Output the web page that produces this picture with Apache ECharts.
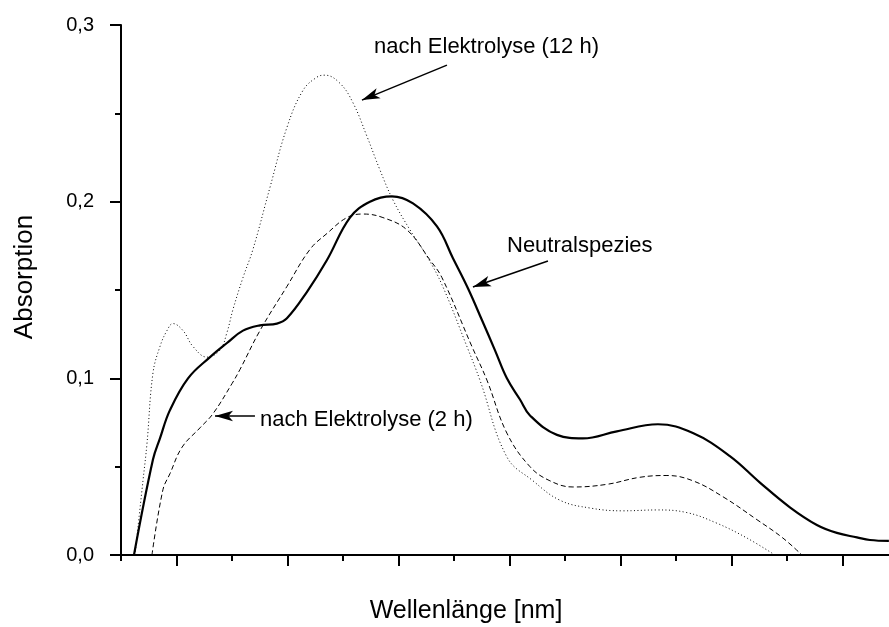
<!DOCTYPE html>
<html>
<head>
<meta charset="utf-8">
<script src="https://cdn.jsdelivr.net/npm/echarts@6/dist/echarts.min.js"></script>
<style>
html,body{margin:0;padding:0;background:#fff;}
#chart{width:889px;height:627px;}
</style>
</head>
<body>
<div id="chart"></div>
<script>
// ---- data (wavelength in nm, absorption) ----
var neutralX = [261.7,278.8,285.1,294.1,310.4,330.2,345.5,359.9,375.2,390.5,399.5,417.6,435.6,456.3,474.3,494.1,513.1,534.7,549.1,562.6,575.2,586.9,597.7,609.5,618.5,642.8,666.2,696.8,733.8,765.3,798.6,825.7,852.7,877.0,895.0,913.1,924.8,941.9];
var neutralY = [0.000,0.054,0.066,0.082,0.100,0.112,0.120,0.127,0.130,0.131,0.134,0.149,0.167,0.191,0.200,0.203,0.199,0.186,0.168,0.151,0.133,0.116,0.100,0.088,0.079,0.068,0.066,0.070,0.074,0.069,0.056,0.041,0.027,0.017,0.0125,0.010,0.0085,0.008];

var el2hX = [277.9,287.8,294.1,305.0,321.2,332.9,350.0,357.2,375.2,399.5,420.3,435.6,453.6,468.0,486.0,507.7,528.4,539.2,566.2,579.7,597.7,618.5,636.5,657.2,687.8,717.6,741.9,765.3,792.3,823.0,846.4,863.5];
var el2hY = [0.000,0.037,0.046,0.061,0.072,0.080,0.097,0.105,0.127,0.152,0.173,0.182,0.191,0.193,0.191,0.184,0.167,0.157,0.118,0.099,0.069,0.050,0.042,0.0385,0.040,0.044,0.045,0.042,0.033,0.020,0.0096,0.000];

var el12hX = [262.6,269.8,273.4,278.8,285.1,291.4,296.8,305.9,314.9,327.5,339.2,345.5,350.9,359.9,368.9,384.2,399.5,414.0,426.6,433.8,447.3,459.0,471.6,483.3,495.0,510.4,525.7,539.2,561.7,573.4,597.7,621.2,645.5,672.5,702.3,732.9,759.9,786.9,814.0,839.2];
var el12hY = [0.000,0.042,0.063,0.103,0.118,0.127,0.131,0.127,0.118,0.112,0.116,0.126,0.139,0.157,0.173,0.208,0.242,0.263,0.2705,0.2716,0.267,0.256,0.237,0.218,0.201,0.184,0.169,0.153,0.118,0.099,0.0555,0.042,0.031,0.0266,0.025,0.0255,0.024,0.018,0.0096,0.000];

var yTickLabels = ['0,0','0,1','0,2','0,3'];
var xMinorTicks = [250,350,450,550,650,750,850];
var xMajorTicks = [300,400,500,600,700,800,900];

// annotation arrows (data coordinates: [start, tip])
var arrow12h = [[543.7,0.2773],[467.1,0.2575]];
var arrowNeutral = [[634.7,0.1664],[567.1,0.1517]];
var arrow2h = [[370.7,0.0787],[334.7,0.0787]];

function zip(xs, ys){ return xs.map(function(x,i){ return [x, ys[i]]; }); }

var chart = echarts.init(document.getElementById('chart'), null, {renderer:'canvas'});
var FONT = '"Liberation Sans", Arial, Helvetica, sans-serif';

function arrowLine(pts){
  return {
    silent: true,
    symbol: ['none','arrow'],
    symbolSize: [8,18],
    label: {show:false},
    lineStyle: {color:'#000', width:1.5, type:'solid'},
    data: [[{coord: pts[0]},{coord: pts[1]}]]
  };
}

var option = {
  animation: false,
  backgroundColor: '#fff',
  grid: {left:121, right:0, top:25, bottom:72, containLabel:false},
  xAxis: [{
    type:'value', min:250, max:942,
    axisLine:{show:true, onZero:false, lineStyle:{color:'#000', width:2}},
    axisTick:{show:true, length:6, customValues: xMinorTicks, lineStyle:{color:'#000', width:2}},
    axisLabel:{show:false},
    splitLine:{show:false}
  },{
    type:'value', min:250, max:942, position:'bottom',
    axisLine:{show:false},
    axisTick:{show:true, length:11, customValues: xMajorTicks, lineStyle:{color:'#000', width:2}},
    axisLabel:{show:false},
    splitLine:{show:false}
  }],
  yAxis: {
    type:'value', min:0, max:0.3, interval:0.1,
    axisLine:{show:true, onZero:false, lineStyle:{color:'#000', width:2}},
    axisTick:{show:true, length:11, lineStyle:{color:'#000', width:2}},
    minorTick:{show:true, splitNumber:2, length:6, lineStyle:{color:'#000', width:2}},
    minorSplitLine:{show:false},
    splitLine:{show:false},
    axisLabel:{
      margin:27, color:'#000', fontSize:20, fontFamily:'Liberation Sans',
      formatter:function(v){ return yTickLabels[Math.round(v*10)]; }
    }
  },
  graphic: [
    {type:'text', x:25, y:277, rotation:Math.PI/2,
     style:{text:'Absorption', fill:'#000', font:'26px ' + FONT, align:'center', verticalAlign:'middle'}},
    {type:'text', x:466, y:611,
     style:{text:'Wellenlänge [nm]', fill:'#000', font:'25px ' + FONT, align:'center', verticalAlign:'middle'}},
    {type:'text', x:374, y:47,
     style:{text:'nach Elektrolyse (12 h)', fill:'#000', font:'22px ' + FONT, align:'left', verticalAlign:'middle'}},
    {type:'text', x:507, y:246,
     style:{text:'Neutralspezies', fill:'#000', font:'22px ' + FONT, align:'left', verticalAlign:'middle'}},
    {type:'text', x:260, y:420,
     style:{text:'nach Elektrolyse (2 h)', fill:'#000', font:'22px ' + FONT, align:'left', verticalAlign:'middle'}}
  ],
  series: [
    {
      name:'Neutralspezies', type:'line', data: zip(neutralX, neutralY),
      showSymbol:false, smooth:0.4, clip:true,
      lineStyle:{color:'#000', width:2.2, type:'solid'},
      markLine: arrowLine(arrowNeutral)
    },
    {
      name:'nach Elektrolyse (2 h)', type:'line', data: zip(el2hX, el2hY),
      showSymbol:false, smooth:0.4, clip:true,
      lineStyle:{color:'#000', width:1, type:[5,3]},
      markLine: arrowLine(arrow2h)
    },
    {
      name:'nach Elektrolyse (12 h)', type:'line', data: zip(el12hX, el12hY),
      showSymbol:false, smooth:0.4, clip:true,
      lineStyle:{color:'#000', width:1, type:[1,2.5]},
      markLine: arrowLine(arrow12h)
    }
  ]
};
chart.setOption(option);
</script>
</body>
</html>
